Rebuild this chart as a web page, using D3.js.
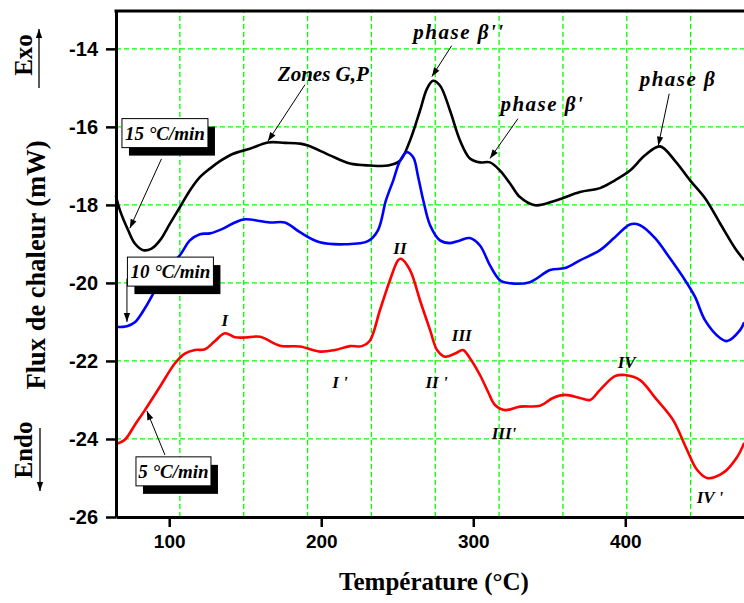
<!DOCTYPE html>
<html>
<head>
<meta charset="utf-8">
<script src="https://cdn.jsdelivr.net/npm/d3@7"></script>
<style>
  body { margin: 0; background: #fff; }
  svg { display: block; }
</style>
</head>
<body>
<div id="chart"></div>
<script>
// 15 °C/min (black)
const temp15 = [64.9, 67.6, 73.0, 77.4, 82.9, 88.4, 93.9, 100.5, 107.0, 113.6, 120.2, 126.8, 133.4, 142.1, 153.1,
  164.9, 176.1, 186.0, 191.2, 205.7, 218.9, 232.0, 243.9, 251.8, 258.4, 265.0, 269.6, 273.5, 278.1, 284.7, 291.3,
  297.8, 304.4, 311.0, 317.6, 324.2, 330.7, 340.6, 354.9, 370.2, 383.4, 393.2, 403.1, 413.0, 422.8, 432.7, 442.6,
  452.5, 462.3, 472.2, 478.2];
const flux15 = [-17.76, -18.14, -18.65, -18.99, -19.16, -19.12, -18.91, -18.48, -18.06, -17.63, -17.29, -17.07, -16.88, -16.69, -16.56,
  -16.40, -16.41, -16.43, -16.48, -16.73, -16.94, -16.99, -16.99, -16.87, -16.35, -15.58, -15.02, -14.82, -14.94, -15.58, -16.35,
  -16.81, -16.91, -16.91, -17.12, -17.45, -17.80, -18.01, -17.88, -17.67, -17.57, -17.37, -17.12, -16.73, -16.50, -16.87, -17.37,
  -17.83, -18.47, -19.11, -19.42];

// 10 °C/min (blue)
const temp10 = [64.9, 72.2, 77.4, 84.0, 90.6, 97.2, 107.0, 113.6, 120.2, 126.8, 134.7, 143.2, 149.8, 166.2, 176.1,
  186.0, 199.1, 215.6, 230.7, 237.3, 242.6, 247.4, 251.8, 256.2, 260.5, 263.8, 267.1, 271.6, 278.1, 284.7, 291.3,
  297.8, 304.4, 311.0, 317.6, 324.2, 337.3, 350.5, 360.3, 370.2, 383.4, 393.2, 403.1, 409.7, 419.6, 429.4, 439.3,
  445.9, 452.5, 462.3, 467.0, 475.5, 478.2];
const flux10 = [-21.13, -21.11, -21.01, -20.65, -20.19, -19.67, -19.29, -18.91, -18.75, -18.73, -18.62, -18.45, -18.37, -18.45, -18.45,
  -18.70, -18.96, -19.01, -18.93, -18.65, -17.88, -17.37, -16.87, -16.65, -16.78, -17.29, -17.88, -18.52, -18.91, -18.98, -18.91,
  -18.85, -19.04, -19.55, -19.93, -20.01, -19.98, -19.67, -19.62, -19.42, -19.16, -18.83, -18.50, -18.52, -18.85, -19.37, -19.93,
  -20.36, -20.96, -21.41, -21.49, -21.21, -21.01];

// 5 °C/min (red)
const temp5 = [64.9, 70.8, 77.4, 84.0, 93.9, 103.8, 110.3, 116.9, 123.5, 130.1, 136.6, 143.2, 149.8, 159.7, 172.8,
  186.0, 199.1, 209.0, 218.9, 226.8, 232.0, 238.6, 245.2, 250.5, 252.4, 258.4, 265.0, 271.6, 276.2, 281.4, 288.0,
  293.2, 297.8, 304.4, 309.7, 314.3, 320.9, 330.7, 343.9, 352.4, 360.3, 370.2, 376.8, 383.4, 393.2, 399.8, 409.7,
  419.6, 431.4, 440.6, 447.2, 453.8, 464.3, 473.6, 478.2];
const flux5 = [-24.13, -24.02, -23.64, -23.26, -22.66, -22.06, -21.81, -21.72, -21.70, -21.49, -21.29, -21.39, -21.40, -21.38, -21.61,
  -21.63, -21.76, -21.72, -21.62, -21.62, -21.48, -20.70, -19.93, -19.42, -19.38, -19.67, -20.45, -21.21, -21.72, -21.89, -21.81,
  -21.72, -21.93, -22.36, -22.79, -23.13, -23.26, -23.17, -23.15, -22.95, -22.87, -22.95, -23.00, -22.74, -22.39, -22.36, -22.49,
  -22.94, -23.51, -24.28, -24.79, -25.00, -24.87, -24.46, -24.10];

const xTicks = [100, 200, 300, 400];
const yTicks = [-26, -24, -22, -20, -18, -16, -14];
const xGrid = [107, 149, 191, 233, 275, 317, 359, 401, 443];

// rate labels: [text, temperature, flux] of box centre, then arrow from/to
const rateLabels = [
  ['15 °C/min', 97.2, -16.16, [94.9, -16.82], [74.1, -18.60]],
  ['10 °C/min', 100.8, -19.71, [72.2, -19.89], [72.2, -21.00]],
  ['5 °C/min', 102.8, -24.83, [97.2, -24.41], [85.3, -23.28]]
];
const phaseLabels = [
  ['Zones G,P', 201.4, -14.82, [189.3, -14.92], [164.9, -16.37]],
  ['phase β\'\'', 290.6, -13.74, [285.8, -13.92], [272.8, -14.71]],
  ['phase β\'', 345.5, -15.59, [329.4, -15.79], [311.0, -16.81]],
  ['phase β', 434.7, -14.95, [428.9, -15.15], [421.7, -16.48]]
];
const peakLabels = [
  ['I', 136.6, -21.11], ['I \'', 212.3, -22.69], ['II', 251.8, -19.26], ['II \'', 275.9, -22.69],
  ['III', 292.4, -21.49], ['III\'', 320.2, -24.0], ['IV', 400.9, -22.18], ['IV \'', 455.7, -25.63]
];

const width = 744, height = 603;
const margin = { left: 116, top: 11, bottom: 86 };
const x = d3.scaleLinear().domain([65, 485]).range([margin.left, 754.5]);
const y = d3.scaleLinear().domain([-26, -13.03]).range([height - margin.bottom, margin.top]);

const svg = d3.select('#chart').append('svg')
  .attr('width', width)
  .attr('height', height);

const defs = svg.append('defs');
defs.append('marker')
  .attr('id', 'head')
  .attr('viewBox', '0 0 10 10')
  .attr('refX', 10).attr('refY', 5)
  .attr('markerWidth', 10).attr('markerHeight', 9)
  .attr('markerUnits', 'userSpaceOnUse')
  .attr('orient', 'auto')
  .append('path').attr('d', 'M0,1.5 L10,5 L0,8.5 Z').attr('fill', '#000');

// grid
const grid = svg.append('g')
  .attr('stroke', '#00ff00')
  .attr('stroke-width', 1.3)
  .attr('stroke-dasharray', '5,3');
grid.selectAll('.gx').data(xGrid).enter().append('line')
  .attr('x1', d => x(d)).attr('x2', d => x(d))
  .attr('y1', y(-26)).attr('y2', margin.top);
grid.selectAll('.gy').data(yTicks.slice(1)).enter().append('line')
  .attr('x1', margin.left).attr('x2', width)
  .attr('y1', d => y(d)).attr('y2', d => y(d));

// curves
const line = d3.line().curve(d3.curveCatmullRom.alpha(0.5));
const series = [
  { t: temp15, f: flux15, color: '#000000' },
  { t: temp10, f: flux10, color: '#0000ff' },
  { t: temp5, f: flux5, color: '#ff0000' }
];
svg.append('g').selectAll('path').data(series).enter().append('path')
  .attr('fill', 'none')
  .attr('stroke', d => d.color)
  .attr('stroke-width', 2.6)
  .attr('stroke-linejoin', 'round')
  .attr('d', d => line(d.t.map((t, i) => [x(t), y(d.f[i])])));

// axes
const xAxis = svg.append('g')
  .attr('transform', `translate(0,${y(-26)})`)
  .call(d3.axisBottom(x).tickValues(xTicks).tickSize(10).tickSizeOuter(0).tickPadding(8));
const yAxis = svg.append('g')
  .attr('transform', `translate(${margin.left},0)`)
  .call(d3.axisLeft(y).tickValues(yTicks).tickSize(10).tickSizeOuter(0).tickPadding(8)
    .tickFormat(d => String(d)));
[xAxis, yAxis].forEach(a => {
  a.select('.domain').attr('stroke-width', 3);
  a.selectAll('.tick line').attr('stroke-width', 2.5);
  a.selectAll('.tick text')
    .attr('font-family', 'Liberation Sans, Arial, sans-serif')
    .attr('font-weight', 'bold')
    .attr('fill', '#000');
});
xAxis.selectAll('.tick text').attr('font-size', 19);
yAxis.selectAll('.tick text').attr('font-size', 20);
svg.append('line')
  .attr('x1', margin.left - 1.5).attr('x2', width)
  .attr('y1', margin.top).attr('y2', margin.top)
  .attr('stroke', '#000').attr('stroke-width', 3);

// axis titles
svg.append('text')
  .attr('x', 434).attr('y', 590)
  .attr('text-anchor', 'middle')
  .attr('font-family', 'Liberation Serif, Times New Roman, serif')
  .attr('font-weight', 'bold')
  .attr('font-size', 25)
  .text('Température (°C)');

const serif = 'Liberation Serif, Times New Roman, serif';
function vText(txt, cx, cy, size) {
  svg.append('text')
    .attr('transform', `translate(${cx},${cy}) rotate(-90)`)
    .attr('text-anchor', 'middle')
    .attr('font-family', serif)
    .attr('font-weight', 'bold')
    .attr('font-size', size)
    .text(txt);
}
vText('Flux de chaleur (mW)', 45, 265, 26.5);
vText('Exo', 32, 55, 25);
vText('Endo', 32, 450, 25);
svg.append('line').attr('x1', 39).attr('x2', 39).attr('y1', 88).attr('y2', 29)
  .attr('stroke', '#000').attr('stroke-width', 1.3).attr('marker-end', 'url(#head)');
svg.append('line').attr('x1', 40).attr('x2', 40).attr('y1', 428).attr('y2', 491)
  .attr('stroke', '#000').attr('stroke-width', 1.3).attr('marker-end', 'url(#head)');

// annotations
const ann = svg.append('g');
function arrow(from, to) {
  ann.append('line')
    .attr('x1', x(from[0])).attr('y1', y(from[1]))
    .attr('x2', x(to[0])).attr('y2', y(to[1]))
    .attr('stroke', '#000').attr('stroke-width', 1)
    .attr('marker-end', 'url(#head)');
}

rateLabels.forEach(([txt, t, f, from, to]) => {
  arrow(from, to);
  const cx = x(t), cy = y(f);
  const w = txt.length > 8 ? 86 : 75, h = 29;
  ann.append('rect')
    .attr('x', cx - w / 2 + 7).attr('y', cy - h / 2 + 8)
    .attr('width', w).attr('height', h)
    .attr('fill', '#000');
  ann.append('rect')
    .attr('x', cx - w / 2).attr('y', cy - h / 2)
    .attr('width', w).attr('height', h)
    .attr('fill', '#fff').attr('stroke', '#000').attr('stroke-width', 1);
  ann.append('text')
    .attr('x', cx).attr('y', cy + 6.5)
    .attr('text-anchor', 'middle')
    .attr('font-family', serif)
    .attr('font-style', 'italic').attr('font-weight', 'bold')
    .attr('font-size', 19)
    .text(txt);
});

phaseLabels.forEach(([txt, t, f, from, to]) => {
  arrow(from, to);
  ann.append('text')
    .attr('x', x(t)).attr('y', y(f))
    .attr('text-anchor', 'middle')
    .attr('font-family', serif)
    .attr('font-style', 'italic').attr('font-weight', 'bold')
    .attr('font-size', 21)
    .attr('letter-spacing', txt.startsWith('phase') ? 1.5 : 0)
    .text(txt);
});

ann.selectAll('.peak').data(peakLabels).enter().append('text')
  .attr('x', d => x(d[1])).attr('y', d => y(d[2]))
  .attr('text-anchor', 'middle')
  .attr('font-family', serif)
  .attr('font-style', 'italic').attr('font-weight', 'bold')
  .attr('font-size', 17)
  .text(d => d[0]);
</script>
</body>
</html>
